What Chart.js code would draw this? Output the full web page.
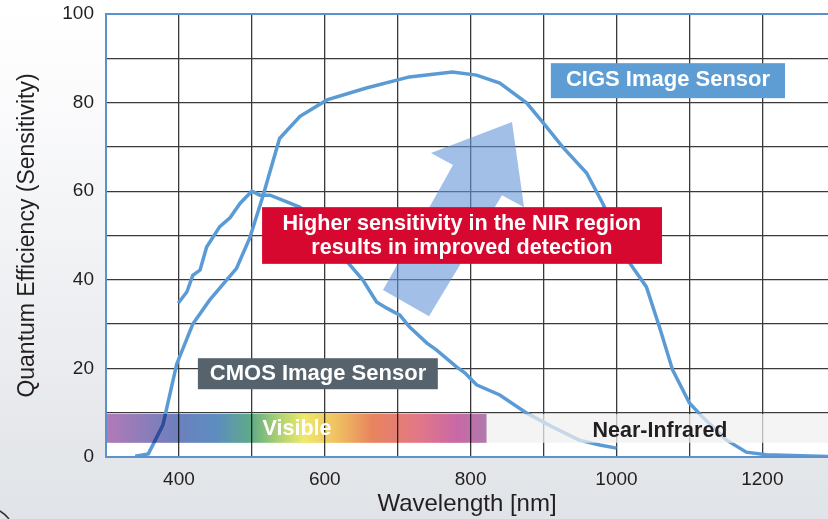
<!DOCTYPE html>
<html><head><meta charset="utf-8">
<script src="https://cdn.jsdelivr.net/npm/chart.js@4/dist/chart.umd.min.js"></script>
<style>html,body{margin:0;padding:0;background:#fff}#wrap{width:828px;height:519px;position:relative}</style>
</head><body><div id="wrap"><canvas id="c" width="828" height="519"></canvas></div>
<script>
// ---- data ----
const cigsWavelength = [340, 358, 378, 397, 419, 442, 479, 497, 515, 538, 566, 603, 657, 716, 775, 808, 840, 877, 904, 926, 959, 981, 1018, 1041, 1059, 1077, 1100, 1118, 1151, 1178, 1205, 1290];
const cigsValue      = [0.2, 0.7, 7.2, 21, 30, 35.4, 42.6, 49.4, 58.8, 71.9, 76.9, 80.6, 83.3, 85.8, 86.9, 86.2, 84.4, 79.9, 74.5, 70, 64.1, 57.3, 43.8, 38.4, 29.3, 19.6, 12.2, 9, 3.8, 1.1, 0.5, 0.1];
const cmosWavelength = [399, 411, 419, 429, 438, 456, 470, 484, 500, 511, 525, 548, 566, 600, 632, 652, 671, 685, 703, 716, 740, 753, 781, 792, 808, 840, 877, 912, 949, 977, 1000];
const cmosValue      = [34.7, 37.3, 41, 42.2, 47.4, 52, 54, 57.3, 60, 59.1, 59.1, 57.6, 56.4, 50, 43.8, 40, 35, 33.6, 32, 29.4, 25.7, 24.2, 20.3, 19, 16.3, 14, 9.9, 6.8, 3.8, 2.7, 2.0];
const xGrid = [300, 400, 500, 600, 700, 800, 900, 1000, 1100, 1200];
const xTickLabels = [400, 600, 800, 1000, 1200];
const yGrid = [0, 10, 20, 30, 40, 50, 60, 70, 80, 90, 100];
const yTickLabels = [0, 20, 40, 60, 80, 100];
const seriesNames = ['CIGS Image Sensor', 'CMOS Image Sensor'];
const bandNames = ['Visible', 'Near-Infrared'];
const noteLines = ['Higher sensitivity in the NIR region', 'results in improved detection'];
const visibleEnd = 822; // nm, end of visible band

const FONT = '"Liberation Sans", Arial, Helvetica, sans-serif';
const LINE = '#5b9bd5';

const toPts = (xs, ys) => xs.map((x, i) => ({x, y: ys[i]}));

const decor = {
  id: 'decor',
  beforeDraw(chart) {
    const {ctx, chartArea: a, width, height} = chart;
    ctx.save();
    const g = ctx.createLinearGradient(0, 0, 0, height);
    g.addColorStop(0, '#ffffff');
    g.addColorStop(0.12, '#fdfdfe');
    g.addColorStop(1, '#e0e3e7');
    ctx.fillStyle = g;
    ctx.fillRect(0, 0, width, height);
    ctx.fillStyle = '#ffffff';
    ctx.fillRect(a.left, a.top, a.right - a.left, a.bottom - a.top);
    ctx.restore();
  },
  afterDatasetsDraw(chart) {
    const {ctx, chartArea: a} = chart;
    const X = v => chart.scales.x.getPixelForValue(v);
    const Y = v => chart.scales.y.getPixelForValue(v);
    ctx.save();
    // spectrum bands
    const bt = Y(9.7), bb = Y(3.2);
    const x0 = a.left, x1 = X(visibleEnd);
    const g = ctx.createLinearGradient(x0, 0, x1, 0);
    [[0,'#b27ab7'],[0.19,'#6b80bd'],[0.29,'#5d8dc0'],[0.38,'#5faa88'],[0.45,'#a9d072'],[0.52,'#efe96a'],[0.6,'#f0c462'],[0.7,'#e8845e'],[0.82,'#e37886'],[0.92,'#c968a6'],[1,'#b07aac']].forEach(s => g.addColorStop(s[0], s[1]));
    ctx.globalCompositeOperation = 'multiply';
    ctx.fillStyle = g;
    ctx.fillRect(x0, bt, x1 - x0, bb - bt);
    ctx.globalCompositeOperation = 'source-over';
    ctx.fillStyle = 'rgba(240,240,240,0.72)';
    ctx.fillRect(x1, bt, a.right - x1, bb - bt);
    // borders
    ctx.strokeStyle = '#5b92cc';
    ctx.lineWidth = 2;
    ctx.beginPath();
    ctx.moveTo(a.right, a.top); ctx.lineTo(a.left, a.top); ctx.lineTo(a.left, a.bottom); ctx.lineTo(a.right, a.bottom);
    ctx.stroke();
    // arrow
    const arrow = [[679.8,37.7],[775.8,65.9],[745.6,68.6],[856.7,75.6],[873.2,56.4],[843,59.1],[742.9,31.8]];
    ctx.fillStyle = 'rgba(100,150,215,0.6)';
    ctx.beginPath();
    arrow.forEach((p, i) => i ? ctx.lineTo(X(p[0]), Y(p[1])) : ctx.moveTo(X(p[0]), Y(p[1])));
    ctx.closePath();
    ctx.fill();
    // boxes
    const box = (n0, n1, v0, v1, c) => { ctx.fillStyle = c; ctx.fillRect(X(n0), Y(v0), X(n1) - X(n0), Y(v1) - Y(v0)); };
    box(910, 1231, 88.9, 81.0, '#5e9cd4');
    box(426, 755, 22.3, 15.3, '#56626c');
    box(514, 1062.4, 56.4, 43.6, '#d7082f');
    ctx.textAlign = 'center';
    ctx.textBaseline = 'middle';
    ctx.fillStyle = '#ffffff';
    ctx.font = 'bold 22px ' + FONT;
    ctx.fillText(seriesNames[0], X(1070.6), Y(85.1));
    ctx.fillText(seriesNames[1], X(590.7), Y(18.7));
    ctx.font = 'bold 21.6px ' + FONT;
    ctx.fillText(noteLines[0], X(788), Y(52.6));
    ctx.fillText(noteLines[1], X(788), Y(47.2));
    ctx.font = 'bold 21.5px ' + FONT;
    ctx.fillText(bandNames[0], X(562), Y(6.3));
    ctx.fillStyle = '#231f20';
    ctx.fillText(bandNames[1], X(1059.6), Y(5.9));
    ctx.restore();
  },
  afterDraw(chart) {
    const ctx = chart.ctx;
    ctx.save();
    ctx.strokeStyle = '#333';
    ctx.lineWidth = 1.5;
    ctx.beginPath();
    ctx.moveTo(0, 511); ctx.quadraticCurveTo(5, 514, 9, 519);
    ctx.stroke();
    ctx.restore();
  }
};

new Chart(document.getElementById('c'), {
  type: 'line',
  data: {
    datasets: [
      {label: seriesNames[0], data: toPts(cigsWavelength, cigsValue), borderColor: LINE, borderWidth: 3.5, pointRadius: 0, tension: 0, fill: false},
      {label: seriesNames[1], data: toPts(cmosWavelength, cmosValue), borderColor: LINE, borderWidth: 3.5, pointRadius: 0, tension: 0, fill: false}
    ]
  },
  options: {
    responsive: false,
    animation: false,
    devicePixelRatio: 1,
    layout: {padding: {top: 14, right: 0, left: 0, bottom: 0}},
    plugins: {legend: {display: false}, tooltip: {enabled: false}},
    scales: {
      x: {
        type: 'linear', min: 300, max: 1290,
        afterBuildTicks: s => { s.ticks = xGrid.map(v => ({value: v})); },
        afterFit: s => { s.height = 62; s.paddingLeft = 0; s.paddingRight = 0; },
        border: {display: false},
        grid: {color: '#3a3a3a', lineWidth: 1.3, drawTicks: false},
        ticks: {autoSkip: false, maxRotation: 0, padding: 11, color: '#231f20', font: {family: FONT, size: 19},
                callback: v => xTickLabels.includes(v) ? String(v) : ''},
        title: {display: true, text: 'Wavelength [nm]', color: '#231f20', font: {family: FONT, size: 24}, padding: {top: 0, bottom: 0}}
      },
      y: {
        min: 0, max: 100,
        afterBuildTicks: s => { s.ticks = yGrid.map(v => ({value: v})); },
        afterFit: s => { s.width = 106; s.paddingTop = 0; s.paddingBottom = 0; },
        border: {display: false},
        grid: {color: '#3a3a3a', lineWidth: 1.3, drawTicks: false},
        ticks: {autoSkip: false, padding: 12, color: '#231f20', font: {family: FONT, size: 19},
                callback: v => yTickLabels.includes(v) ? String(v) : ''},
        title: {display: true, text: 'Quantum Efficiency (Sensitivity)', color: '#231f20', font: {family: FONT, size: 23}, padding: {top: 14, bottom: 0}}
      }
    }
  },
  plugins: [decor]
});
</script></body></html>
